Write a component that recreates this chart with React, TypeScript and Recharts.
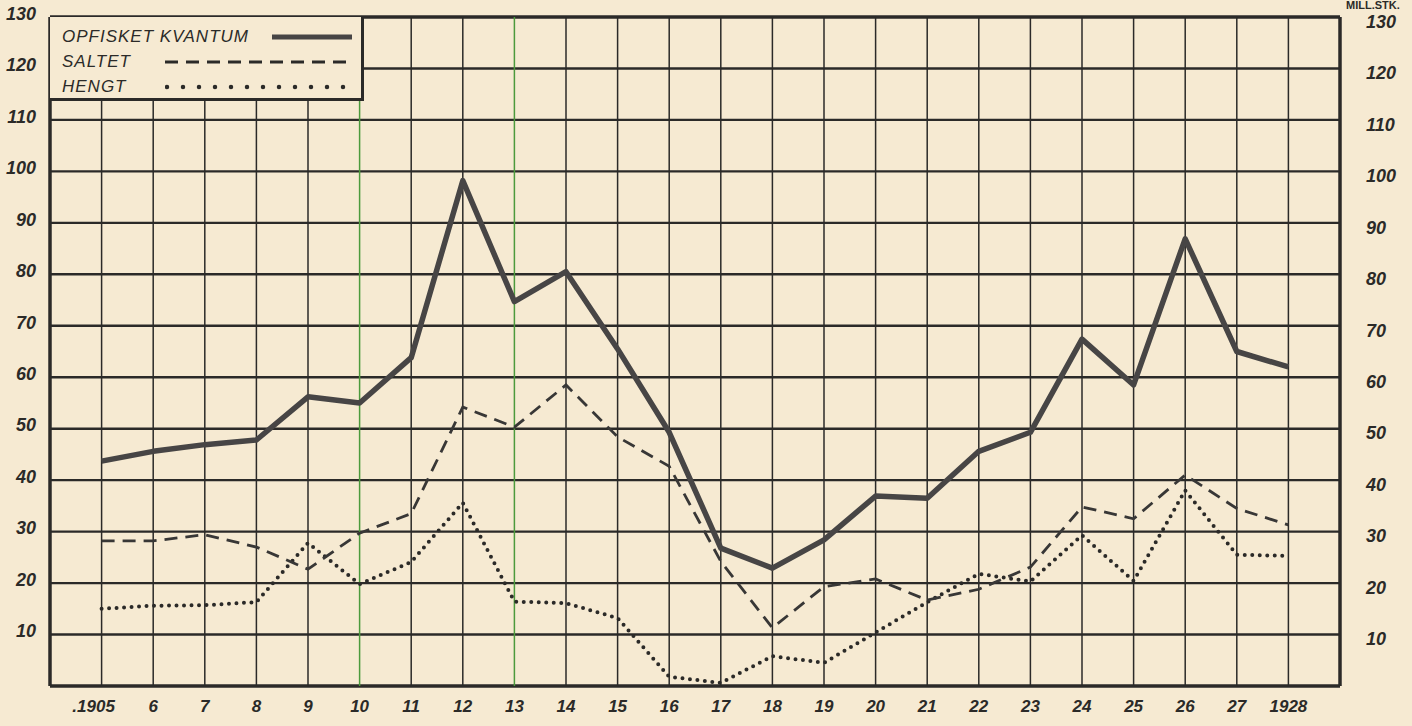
import { ComposedChart, Line, XAxis, YAxis, ReferenceLine } from "recharts";

const years = [
  1905, 1906, 1907, 1908, 1909, 1910, 1911, 1912, 1913, 1914, 1915, 1916,
  1917, 1918, 1919, 1920, 1921, 1922, 1923, 1924, 1925, 1926, 1927, 1928,
];
// mill. stk.
const kvantum = [
  43.7, 45.6, 46.9, 47.8, 56.2, 55, 63.8, 98.2, 74.7, 80.5, 65.5, 49.3,
  26.8, 22.9, 28.4, 36.9, 36.5, 45.6, 49.3, 67.4, 58.5, 86.9, 65, 62,
];
const saltet = [
  28.2, 28.2, 29.4, 27, 22.7, 29.7, 33.5, 54.2, 50.3, 58.5, 48.4, 42.7,
  24.2, 11.3, 19.3, 20.8, 16.7, 18.8, 23.1, 34.8, 32.5, 41, 34.5, 31.3,
];
const hengt = [
  15, 15.6, 15.7, 16.3, 27.8, 19.8, 24.1, 35.6, 16.4, 16.1, 13.2, 1.8,
  0.6, 5.8, 4.5, 10.4, 16.3, 21.8, 20.3, 29.3, 20.4, 38, 25.5, 25.3,
];
const yTicks = [10, 20, 30, 40, 50, 60, 70, 80, 90, 100, 110, 120, 130];
const gridRows = [0, ...yTicks];
const greenYears = [1910, 1913];

const data = years.map((year, i) => ({
  year,
  kvantum: kvantum[i],
  saltet: saltet[i],
  hengt: hengt[i],
}));

const PAPER = "#f6ead2";
const INK = "#2b2a28";
const FONT = "'Liberation Sans', Arial, sans-serif";

function yearLabel(v: number) {
  if (v === 1905) return ".1905";
  if (v === 1928) return "1928";
  return String(v - 1900);
}

function LeftTick({ x, y, payload }: any) {
  return (
    <text x={x - 6} y={y - 2} textAnchor="end" dominantBaseline="middle"
      fontFamily={FONT} fontStyle="italic" fontWeight={700} fontSize={18} fill={INK}>
      {payload.value}
    </text>
  );
}

function RightTick({ x, y, payload }: any) {
  return (
    <text x={x + 18} y={y + 6} textAnchor="start" dominantBaseline="middle"
      fontFamily={FONT} fontStyle="italic" fontWeight={700} fontSize={18} fill={INK}>
      {payload.value}
    </text>
  );
}

function BottomTick({ x, y, payload }: any) {
  return (
    <text x={payload.value === 1905 ? x - 8 : x} y={y + 14} textAnchor="middle"
      dominantBaseline="middle" fontFamily={FONT} fontStyle="italic" fontWeight={700}
      fontSize={17} fill={INK}>
      {yearLabel(payload.value)}
    </text>
  );
}

function LegendBox() {
  const row = { display: "flex", alignItems: "center", height: 25 } as const;
  const txt = {
    fontFamily: FONT, fontStyle: "italic", fontSize: 17, letterSpacing: 1,
    color: INK, whiteSpace: "nowrap",
  } as const;
  return (
    <div style={{
      position: "absolute", left: 50, top: 17, width: 314, height: 84,
      background: PAPER, border: `3px solid ${INK}`, borderLeft: "none",
      borderTop: "none", boxSizing: "border-box", padding: "7px 0 0 12px",
    }}>
      <div style={row}>
        <span style={{ ...txt, width: 210 }}>OPFISKET KVANTUM</span>
        <svg width={80} height={10}>
          <line x1={0} y1={5} x2={80} y2={5} stroke="#474545" strokeWidth={5} />
        </svg>
      </div>
      <div style={row}>
        <span style={{ ...txt, width: 103 }}>SALTET</span>
        <svg width={188} height={10}>
          <line x1={0} y1={5} x2={188} y2={5} stroke={INK} strokeWidth={3}
            strokeDasharray="13 8" />
        </svg>
      </div>
      <div style={row}>
        <span style={{ ...txt, width: 103 }}>HENGT</span>
        <svg width={188} height={10}>
          <line x1={2} y1={5} x2={188} y2={5} stroke={INK} strokeWidth={4.5}
            strokeDasharray="0 16" strokeLinecap="round" />
        </svg>
      </div>
    </div>
  );
}

export default function App() {
  return (
    <div style={{ position: "absolute", left: 0, top: 0, width: 1412, height: 726,
      background: PAPER, overflow: "hidden" }}>
      <ComposedChart width={1412} height={726} data={data}
        margin={{ top: 17, right: 0, bottom: 0, left: 0 }}>
        <XAxis dataKey="year" type="number" domain={[1904, 1929]} ticks={years}
          interval={0} axisLine={false} tickLine={false} height={40} tick={<BottomTick />} />
        <YAxis yAxisId="left" domain={[0, 130]} ticks={yTicks} width={50}
          axisLine={false} tickLine={false} tick={<LeftTick />} />
        <YAxis yAxisId="right" orientation="right" domain={[0, 130]} ticks={yTicks}
          width={72} axisLine={false} tickLine={false} tick={<RightTick />} />

        {gridRows.map((v) => (
          <ReferenceLine key={"h" + v} yAxisId="left" y={v} stroke={INK}
            strokeWidth={v === 0 || v === 130 ? 3.5 : 2.4} />
        ))}
        {years.map((yr) => (
          <ReferenceLine key={"v" + yr} yAxisId="left" x={yr}
            stroke={greenYears.includes(yr) ? "#4c9a3c" : INK} strokeWidth={1.5} />
        ))}
        <ReferenceLine yAxisId="left" x={1904} stroke={INK} strokeWidth={3.5} />
        <ReferenceLine yAxisId="left" x={1929} stroke={INK} strokeWidth={3.5} />

        <Line yAxisId="left" type="linear" dataKey="hengt" stroke={INK}
          strokeWidth={4} strokeDasharray="0 7.5" strokeLinecap="round"
          dot={false} isAnimationActive={false} />
        <Line yAxisId="right" type="linear" dataKey="saltet" stroke="#383736"
          strokeWidth={2.8} strokeDasharray="13 8" dot={false} isAnimationActive={false} />
        <Line yAxisId="left" type="linear" dataKey="kvantum" stroke="#474545"
          strokeWidth={5.5} strokeLinejoin="round" dot={false} isAnimationActive={false} />
      </ComposedChart>
      <LegendBox />
      <div style={{ position: "absolute", left: 1346, top: 0, fontFamily: FONT,
        fontWeight: 700, fontSize: 11, lineHeight: "11px", color: INK,
        whiteSpace: "nowrap" }}>
        MILL.STK.
      </div>
    </div>
  );
}
